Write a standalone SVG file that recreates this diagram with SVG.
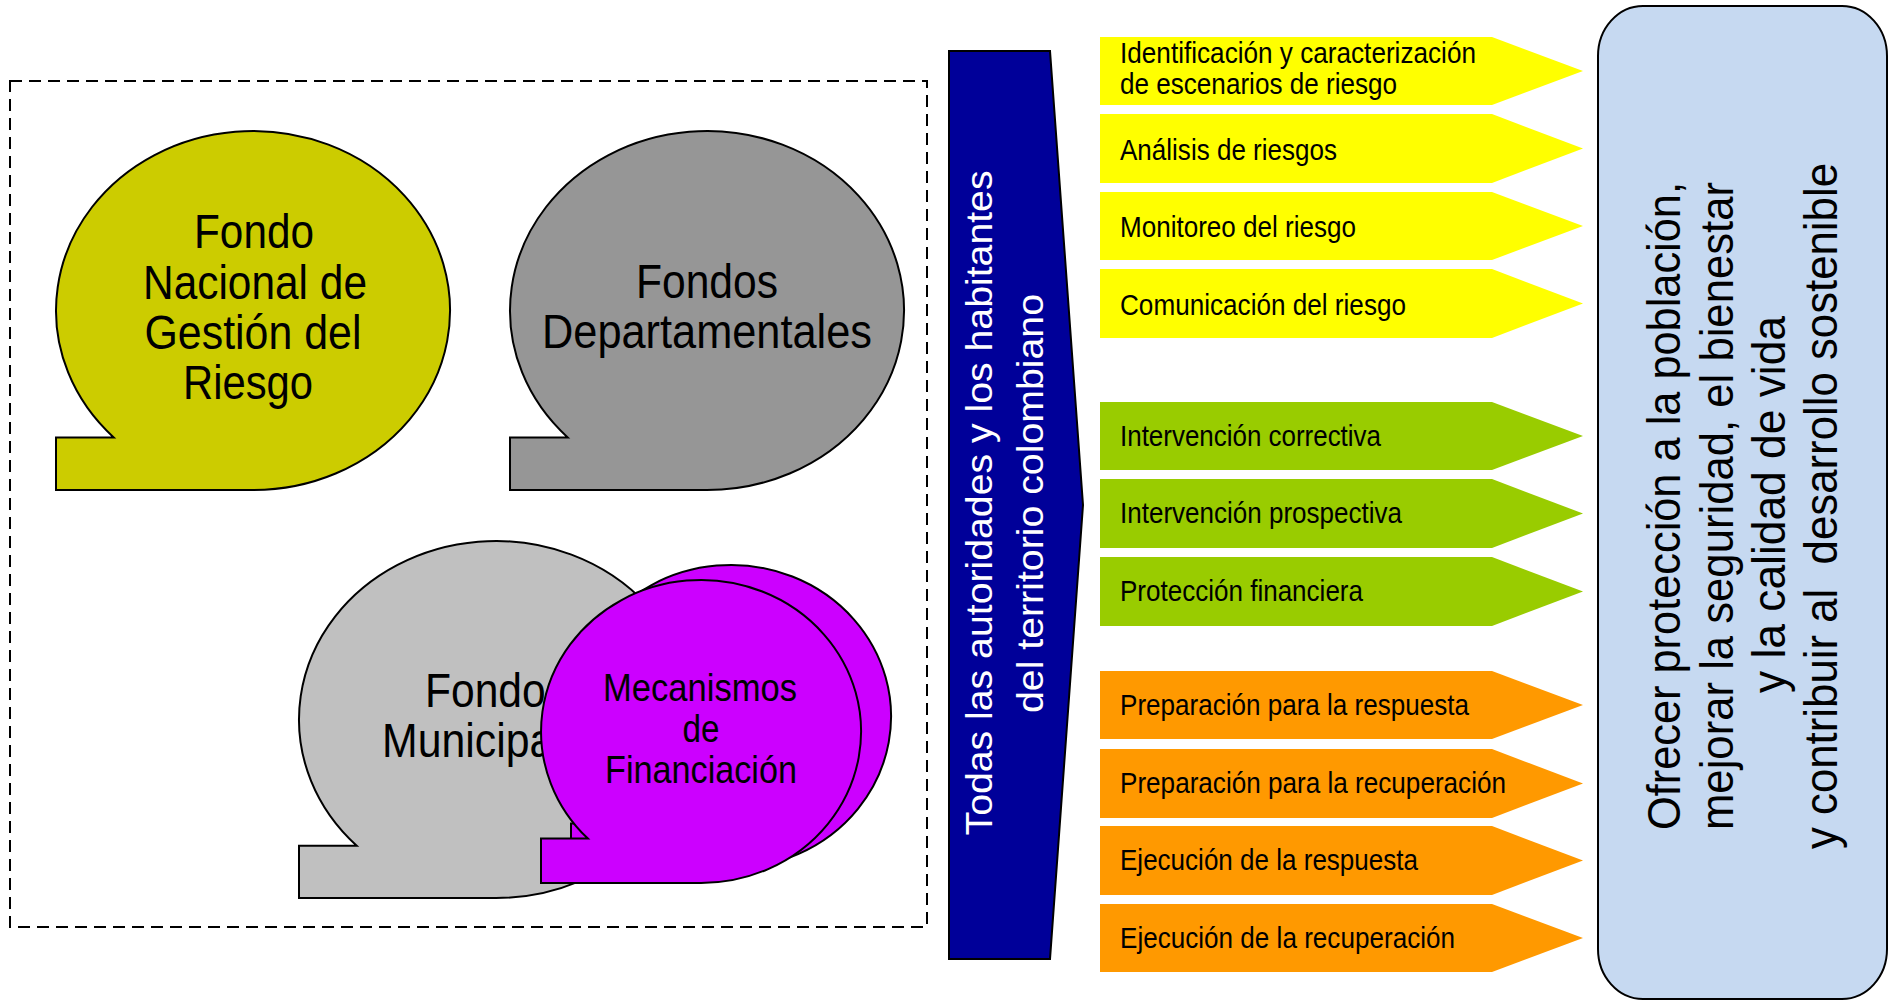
<svg xmlns="http://www.w3.org/2000/svg" width="1891" height="1001" viewBox="0 0 1891 1001">
<style>
  text { font-family: "Liberation Sans", Arial, sans-serif; fill: #000; }
  .bub { stroke: #000; stroke-width: 2; }
  .big { font-size: 49px; text-anchor: middle; }
  .mec { font-size: 39px; text-anchor: middle; }
  .step { font-size: 30px; }
  .yel { fill: #FFFF00; }
  .grn { fill: #99CC00; }
  .org { fill: #FF9900; }
  .white { fill: #FFFFFF; font-size: 37px; text-anchor: middle; }
  .goal { font-size: 46px; text-anchor: middle; }
</style>
<rect x="0" y="0" width="1891" height="1001" fill="#FFFFFF"/>

<g id="frame">
  <rect x="10" y="81" width="917" height="846" fill="none" stroke="#000" stroke-width="2" stroke-dasharray="12 7"/>
</g>

<g id="fondo-nacional">
  <path class="bub" fill="#CCCC00" d="M113.7,437.4 L56,437.4 L56,490 L253,490 A197,179.5 0 1 0 113.7,437.4 Z"/>
  <text class="big" x="254" y="248" textLength="120" lengthAdjust="spacingAndGlyphs">Fondo</text>
  <text class="big" x="255" y="299" textLength="224" lengthAdjust="spacingAndGlyphs">Nacional de</text>
  <text class="big" x="253" y="349" textLength="217" lengthAdjust="spacingAndGlyphs">Gestión del</text>
  <text class="big" x="248" y="399" textLength="130" lengthAdjust="spacingAndGlyphs">Riesgo</text>
</g>

<g id="fondos-departamentales">
  <path class="bub" fill="#969696" d="M567.7,437.4 L510,437.4 L510,490 L707,490 A197,179.5 0 1 0 567.7,437.4 Z"/>
  <text class="big" x="707" y="298" textLength="142" lengthAdjust="spacingAndGlyphs">Fondos</text>
  <text class="big" x="707" y="348" textLength="330" lengthAdjust="spacingAndGlyphs">Departamentales</text>
</g>

<g id="fondos-municipales">
  <path class="bub" fill="#C0C0C0" d="M356.7,845.7 L299,845.7 L299,898 L496,898 A197,178.5 0 1 0 356.7,845.7 Z"/>
  <text class="big" x="496" y="707" textLength="142" lengthAdjust="spacingAndGlyphs">Fondos</text>
  <text class="big" x="495" y="757" textLength="226" lengthAdjust="spacingAndGlyphs">Municipales</text>
</g>

<g id="mecanismos-financiacion">
  <path class="bub" fill="#CC00FF" transform="translate(30,-15)" d="M587.9,838.6 L541,838.6 L541,883 L701,883 A160,151.5 0 1 0 587.9,838.6 Z"/>
  <path class="bub" fill="#CC00FF" d="M587.9,838.6 L541,838.6 L541,883 L701,883 A160,151.5 0 1 0 587.9,838.6 Z"/>
  <text class="mec" x="700" y="701" textLength="194" lengthAdjust="spacingAndGlyphs">Mecanismos</text>
  <text class="mec" x="701" y="742" textLength="37" lengthAdjust="spacingAndGlyphs">de</text>
  <text class="mec" x="701" y="783" textLength="192" lengthAdjust="spacingAndGlyphs">Financiación</text>
</g>

<g id="actores">
  <polygon points="949,51 1050,51 1083,505 1050,959 949,959" fill="#000099" stroke="#000" stroke-width="2"/>
  <text class="white" transform="translate(992,503) rotate(-90)" x="0" y="0" textLength="665" lengthAdjust="spacingAndGlyphs">Todas las autoridades y los habitantes</text>
  <text class="white" transform="translate(1043,503.5) rotate(-90)" x="0" y="0" textLength="419" lengthAdjust="spacingAndGlyphs">del territorio colombiano</text>
</g>

<g id="conocimiento">
  <g id="p-identificacion">
    <polygon class="yel" points="1100,37 1492,37 1583,71 1492,105 1100,105"/>
    <text class="step" x="1120" y="63" textLength="356" lengthAdjust="spacingAndGlyphs">Identificación y caracterización</text>
    <text class="step" x="1120" y="94" textLength="277" lengthAdjust="spacingAndGlyphs">de escenarios de riesgo</text>
  </g>
  <g id="p-analisis">
    <polygon class="yel" points="1100,114 1492,114 1583,148.5 1492,183 1100,183"/>
    <text class="step" x="1120" y="160" textLength="217" lengthAdjust="spacingAndGlyphs">Análisis de riesgos</text>
  </g>
  <g id="p-monitoreo">
    <polygon class="yel" points="1100,192 1492,192 1583,226 1492,260 1100,260"/>
    <text class="step" x="1120" y="237" textLength="236" lengthAdjust="spacingAndGlyphs">Monitoreo del riesgo</text>
  </g>
  <g id="p-comunicacion">
    <polygon class="yel" points="1100,269 1492,269 1583,303.5 1492,338 1100,338"/>
    <text class="step" x="1120" y="314.5" textLength="286" lengthAdjust="spacingAndGlyphs">Comunicación del riesgo</text>
  </g>
</g>

<g id="reduccion">
  <g id="p-correctiva">
    <polygon class="grn" points="1100,402 1492,402 1583,436 1492,470 1100,470"/>
    <text class="step" x="1120" y="445.5" textLength="261" lengthAdjust="spacingAndGlyphs">Intervención correctiva</text>
  </g>
  <g id="p-prospectiva">
    <polygon class="grn" points="1100,479 1492,479 1583,513.5 1492,548 1100,548"/>
    <text class="step" x="1120" y="523" textLength="282" lengthAdjust="spacingAndGlyphs">Intervención prospectiva</text>
  </g>
  <g id="p-financiera">
    <polygon class="grn" points="1100,557 1492,557 1583,591.5 1492,626 1100,626"/>
    <text class="step" x="1120" y="601" textLength="243" lengthAdjust="spacingAndGlyphs">Protección financiera</text>
  </g>
</g>

<g id="manejo">
  <g id="p-prep-respuesta">
    <polygon class="org" points="1100,671 1492,671 1583,705 1492,739 1100,739"/>
    <text class="step" x="1120" y="714.5" textLength="349" lengthAdjust="spacingAndGlyphs">Preparación para la respuesta</text>
  </g>
  <g id="p-prep-recuperacion">
    <polygon class="org" points="1100,749 1492,749 1583,783.5 1492,818 1100,818"/>
    <text class="step" x="1120" y="793" textLength="386" lengthAdjust="spacingAndGlyphs">Preparación para la recuperación</text>
  </g>
  <g id="p-ejec-respuesta">
    <polygon class="org" points="1100,826 1492,826 1583,860.5 1492,895 1100,895"/>
    <text class="step" x="1120" y="870" textLength="298" lengthAdjust="spacingAndGlyphs">Ejecución de la respuesta</text>
  </g>
  <g id="p-ejec-recuperacion">
    <polygon class="org" points="1100,904 1492,904 1583,938 1492,972 1100,972"/>
    <text class="step" x="1120" y="947.5" textLength="335" lengthAdjust="spacingAndGlyphs">Ejecución de la recuperación</text>
  </g>
</g>

<g id="objetivo">
  <rect x="1598" y="6" width="289" height="993" rx="45" ry="50" fill="#C6D9F1" stroke="#000" stroke-width="2"/>
  <text class="goal" transform="translate(1680,506) rotate(-90)" x="0" y="0" textLength="648" lengthAdjust="spacingAndGlyphs">Ofrecer protección a la población,</text>
  <text class="goal" transform="translate(1733,506) rotate(-90)" x="0" y="0" textLength="648" lengthAdjust="spacingAndGlyphs">mejorar la seguridad, el bienestar</text>
  <text class="goal" transform="translate(1785,504.5) rotate(-90)" x="0" y="0" textLength="377" lengthAdjust="spacingAndGlyphs">y la calidad de vida</text>
  <text class="goal" xml:space="preserve" transform="translate(1837,506) rotate(-90)" x="0" y="0" textLength="686" lengthAdjust="spacingAndGlyphs">y contribuir al  desarrollo sostenible</text>
</g>
</svg>
